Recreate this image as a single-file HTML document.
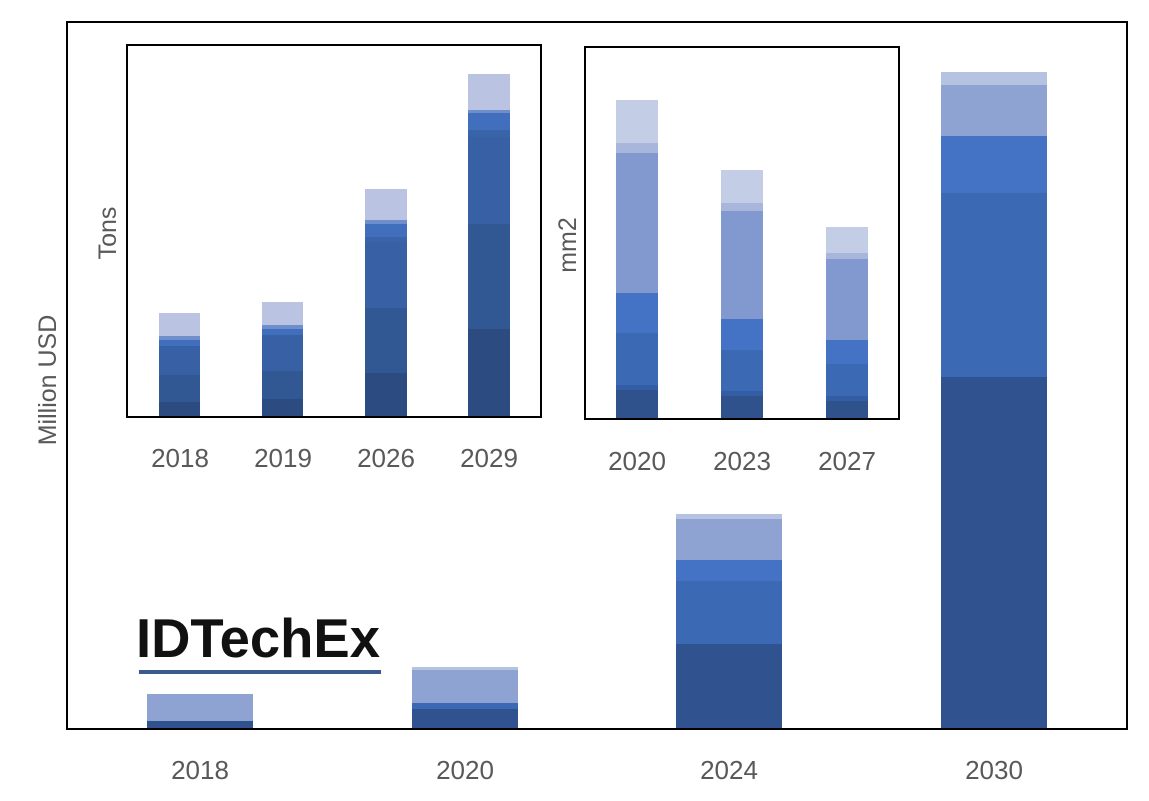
<!DOCTYPE html>
<html><head><meta charset="utf-8"><style>
html,body{margin:0;padding:0;background:#fff;}
svg{display:block;}
text{font-family:"Liberation Sans",sans-serif;}
</style></head><body>
<svg width="1149" height="801" viewBox="0 0 1149 801" xmlns="http://www.w3.org/2000/svg">
<rect x="0" y="0" width="1149" height="801" fill="#fff"/>
<g>
<rect x="147" y="694" width="106" height="27" fill="#8fa3d3"/>
<rect x="147" y="721" width="106" height="8" fill="#30528f"/>
<rect x="412" y="667" width="106" height="3" fill="#b6c2e2"/>
<rect x="412" y="670" width="106" height="33" fill="#8fa3d3"/>
<rect x="412" y="703" width="106" height="6" fill="#3c69b3"/>
<rect x="412" y="709" width="106" height="20" fill="#30528f"/>
<rect x="676" y="514" width="106" height="5" fill="#b6c2e2"/>
<rect x="676" y="519" width="106" height="41" fill="#8fa3d3"/>
<rect x="676" y="560" width="106" height="21" fill="#4473c5"/>
<rect x="676" y="581" width="106" height="63" fill="#3c69b3"/>
<rect x="676" y="644" width="106" height="85" fill="#30528f"/>
<rect x="941" y="72" width="106" height="13" fill="#b6c2e2"/>
<rect x="941" y="85" width="106" height="51" fill="#8fa3d3"/>
<rect x="941" y="136" width="106" height="57" fill="#4473c5"/>
<rect x="941" y="193" width="106" height="184" fill="#3c69b3"/>
<rect x="941" y="377" width="106" height="352" fill="#30528f"/>
</g>
<rect x="67" y="22" width="1060" height="707" fill="none" stroke="#000" stroke-width="2"/>
<g font-size="26" fill="#595959" text-anchor="middle">
<text x="200" y="779">2018</text><text x="465" y="779">2020</text>
<text x="729" y="779">2024</text><text x="994" y="779">2030</text>
</g>
<text transform="translate(56,380) rotate(-90)" font-size="25" fill="#595959" text-anchor="middle">Million USD</text>
<text x="136" y="657" font-size="55" font-weight="bold" fill="#111" textLength="244" lengthAdjust="spacingAndGlyphs">IDTechEx</text>
<rect x="139" y="670" width="242" height="4" fill="#3d5a8c"/>
<rect x="127" y="45" width="414" height="372" fill="#fff"/>
<g>
<rect x="159" y="313" width="41" height="23" fill="#bac4e2"/>
<rect x="159" y="336" width="41" height="4" fill="#6f8fcb"/>
<rect x="159" y="340" width="41" height="6" fill="#416fbe"/>
<rect x="159" y="346" width="41" height="29" fill="#3860a5"/>
<rect x="159" y="375" width="41" height="27" fill="#325893"/>
<rect x="159" y="402" width="41" height="15" fill="#2c4b80"/>
<rect x="262" y="302" width="41" height="23" fill="#bac4e2"/>
<rect x="262" y="325" width="41" height="4" fill="#6f8fcb"/>
<rect x="262" y="329" width="41" height="6" fill="#416fbe"/>
<rect x="262" y="335" width="41" height="36" fill="#3860a5"/>
<rect x="262" y="371" width="41" height="28" fill="#325893"/>
<rect x="262" y="399" width="41" height="18" fill="#2c4b80"/>
<rect x="365" y="189" width="42" height="31" fill="#bac4e2"/>
<rect x="365" y="220" width="42" height="4" fill="#6f8fcb"/>
<rect x="365" y="224" width="42" height="13" fill="#416fbe"/>
<rect x="365" y="237" width="42" height="5" fill="#3a64aa"/>
<rect x="365" y="242" width="42" height="66" fill="#3860a5"/>
<rect x="365" y="308" width="42" height="65" fill="#325893"/>
<rect x="365" y="373" width="42" height="44" fill="#2c4b80"/>
<rect x="468" y="74" width="42" height="36" fill="#bac4e2"/>
<rect x="468" y="110" width="42" height="3" fill="#6f8fcb"/>
<rect x="468" y="113" width="42" height="17" fill="#416fbe"/>
<rect x="468" y="130" width="42" height="7" fill="#3a64aa"/>
<rect x="468" y="137" width="42" height="87" fill="#3860a5"/>
<rect x="468" y="224" width="42" height="105" fill="#325893"/>
<rect x="468" y="329" width="42" height="88" fill="#2c4b80"/>
</g>
<rect x="127" y="45" width="414" height="372" fill="none" stroke="#000" stroke-width="2"/>
<g font-size="26" fill="#595959" text-anchor="middle">
<text x="180" y="467">2018</text><text x="283" y="467">2019</text>
<text x="386" y="467">2026</text><text x="489" y="467">2029</text>
</g>
<text transform="translate(116,233) rotate(-90)" font-size="25" fill="#595959" text-anchor="middle">Tons</text>
<rect x="585" y="47" width="314" height="372" fill="#fff"/>
<g>
<rect x="616" y="100" width="42" height="43" fill="#c3cde5"/>
<rect x="616" y="143" width="42" height="10" fill="#a8b6db"/>
<rect x="616" y="153" width="42" height="140" fill="#8199cf"/>
<rect x="616" y="293" width="42" height="40" fill="#4473c5"/>
<rect x="616" y="333" width="42" height="52" fill="#3c69b3"/>
<rect x="616" y="385" width="42" height="5" fill="#335ea5"/>
<rect x="616" y="390" width="42" height="29" fill="#2f518c"/>
<rect x="721" y="170" width="42" height="33" fill="#c3cde5"/>
<rect x="721" y="203" width="42" height="8" fill="#a8b6db"/>
<rect x="721" y="211" width="42" height="108" fill="#8199cf"/>
<rect x="721" y="319" width="42" height="31" fill="#4473c5"/>
<rect x="721" y="350" width="42" height="41" fill="#3c69b3"/>
<rect x="721" y="391" width="42" height="5" fill="#335ea5"/>
<rect x="721" y="396" width="42" height="23" fill="#2f518c"/>
<rect x="826" y="227" width="42" height="26" fill="#c3cde5"/>
<rect x="826" y="253" width="42" height="6" fill="#a8b6db"/>
<rect x="826" y="259" width="42" height="81" fill="#8199cf"/>
<rect x="826" y="340" width="42" height="24" fill="#4473c5"/>
<rect x="826" y="364" width="42" height="32" fill="#3c69b3"/>
<rect x="826" y="396" width="42" height="5" fill="#335ea5"/>
<rect x="826" y="401" width="42" height="18" fill="#2f518c"/>
</g>
<rect x="585" y="47" width="314" height="372" fill="none" stroke="#000" stroke-width="2"/>
<g font-size="26" fill="#595959" text-anchor="middle">
<text x="637" y="470">2020</text><text x="742" y="470">2023</text>
<text x="847" y="470">2027</text>
</g>
<text transform="translate(576,245) rotate(-90)" font-size="25" fill="#595959" text-anchor="middle">mm2</text>
</svg>
</body></html>
